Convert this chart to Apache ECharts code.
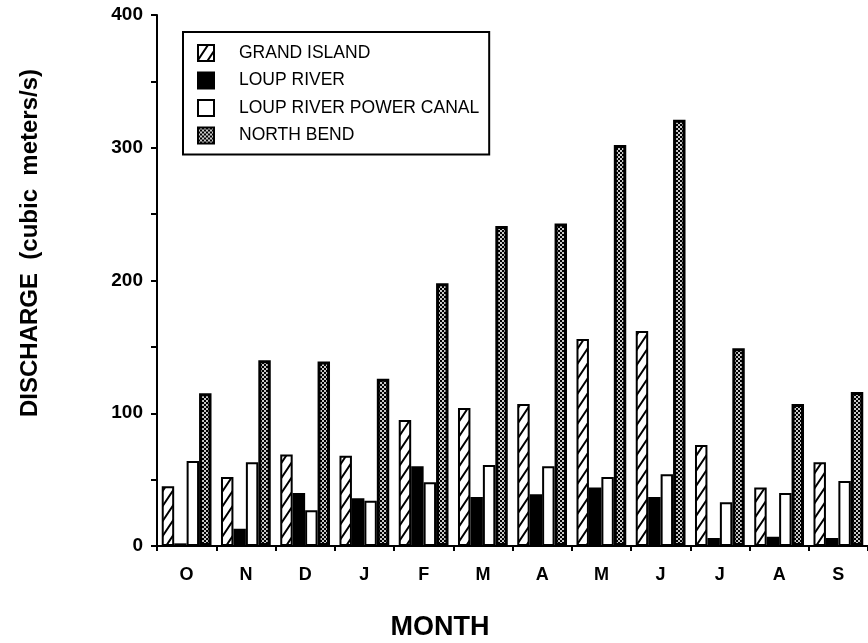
<!DOCTYPE html>
<html>
<head>
<meta charset="utf-8">
<script src="https://cdn.jsdelivr.net/npm/echarts@6/dist/echarts.min.js"></script>
<style>
html,body{margin:0;padding:0;background:#fff;}
#chart{width:868px;height:643px;}
</style>
</head>
<body>
<div id="chart"></div>
<script>
// ---- data ----
const months = ['O','N','D','J','F','M','A','M','J','J','A','S'];
const seriesNames = ['GRAND ISLAND','LOUP RIVER','LOUP RIVER POWER CANAL','NORTH BEND'];
const grandIsland = [45, 52, 69, 68, 95, 104, 107, 156, 162, 76, 44, 63];
const loupRiver   = [2, 13, 40, 36, 60, 37, 39, 44, 37, 6, 7, 6];
const powerCanal  = [64, 63, 27, 34, 48, 61, 60, 52, 54, 33, 40, 49];
const northBend   = [115, 140, 139, 126, 198, 241, 243, 302, 321, 149, 107, 116];
const yTicks = [0, 100, 200, 300, 400];

// ---- patterns ----
function hatchPattern(){
  const c = document.createElement('canvas');
  c.width = 10; c.height = 15;
  const g = c.getContext('2d');
  g.fillStyle = '#fff'; g.fillRect(0,0,10,15);
  g.strokeStyle = '#000'; g.lineWidth = 2;
  g.beginPath();
  g.moveTo(-2, 18); g.lineTo(12, -3);
  g.moveTo(8, 18); g.lineTo(22, -3);
  g.moveTo(-12, 18); g.lineTo(2, -3);
  g.stroke();
  return c;
}
function dotPattern(){
  const c = document.createElement('canvas');
  c.width = 4; c.height = 4;
  const g = c.getContext('2d');
  g.fillStyle = '#c8c8c8'; g.fillRect(0,0,4,4);
  g.fillStyle = '#000';
  g.fillRect(0,0,2,2); g.fillRect(2,2,2,2);
  return c;
}
const hatch = {image: hatchPattern(), repeat: 'repeat'};
const dots = {image: dotPattern(), repeat: 'repeat'};

const FONT = '"Liberation Sans", Arial, Helvetica, sans-serif';
const chart = echarts.init(document.getElementById('chart'), null, {renderer: 'canvas'});

function mkSeries(name, data, color, bw){
  return {
    name: name, type: 'bar', data: data,
    barGap: '0%', barCategoryGap: '16%',
    itemStyle: {color: color, borderColor: '#000', borderWidth: bw},
    emphasis: {disabled: true},
    animation: false
  };
}

chart.setOption({
  animation: false,
  backgroundColor: '#fff',
  grid: {left: 157, right: -4, top: 15, bottom: 97, containLabel: false},
  legend: {
    orient: 'vertical', left: 183, top: 32,
    data: seriesNames,
    icon: 'rect', itemWidth: 16, itemHeight: 16, itemGap: 9.5,
    padding: [12, 10, 10, 14],
    borderColor: '#000', borderWidth: 2,
    textStyle: {fontSize: 17.5, color: '#000', fontFamily: FONT, padding: [0,0,0,20]},
    selectedMode: false
  },
  xAxis: {
    type: 'category', data: months,
    axisLine: {lineStyle: {color: '#000', width: 2}},
    axisTick: {show: true, length: 5, inside: false, alignWithLabel: false, lineStyle: {color: '#000', width: 2}},
    axisLabel: {color: '#000', fontSize: 18, fontWeight: 'bold', fontFamily: FONT, margin: 20, interval: 0},
    splitLine: {show: false}
  },
  yAxis: {
    type: 'value', min: 0, max: 400, interval: 50,
    axisLine: {show: true, lineStyle: {color: '#000', width: 2}},
    axisTick: {show: true, length: 6, inside: false, lineStyle: {color: '#000', width: 2}},
    axisLabel: {
      color: '#000', fontSize: 19, fontWeight: 'bold', fontFamily: FONT, margin: 14,
      formatter: v => yTicks.indexOf(v) >= 0 ? String(v) : ''
    },
    splitLine: {show: false}
  },
  graphic: [
    {type: 'text', x: 30, y: 243, rotation: Math.PI/2,
     style: {text: 'DISCHARGE  (cubic  meters/s)', fontSize: 24, fontWeight: 'bold', fontFamily: FONT,
             fill: '#000', align: 'center', verticalAlign: 'middle'}},
    {type: 'text', x: 440, y: 628,
     style: {text: 'MONTH', fontSize: 27, fontWeight: 'bold', fontFamily: FONT,
             fill: '#000', align: 'center', verticalAlign: 'middle'}}
  ],
  series: [
    mkSeries(seriesNames[0], grandIsland, hatch, 2),
    mkSeries(seriesNames[1], loupRiver, '#000', 2),
    mkSeries(seriesNames[2], powerCanal, '#fff', 2),
    mkSeries(seriesNames[3], northBend, dots, 3)
  ]
});
</script>
</body>
</html>
